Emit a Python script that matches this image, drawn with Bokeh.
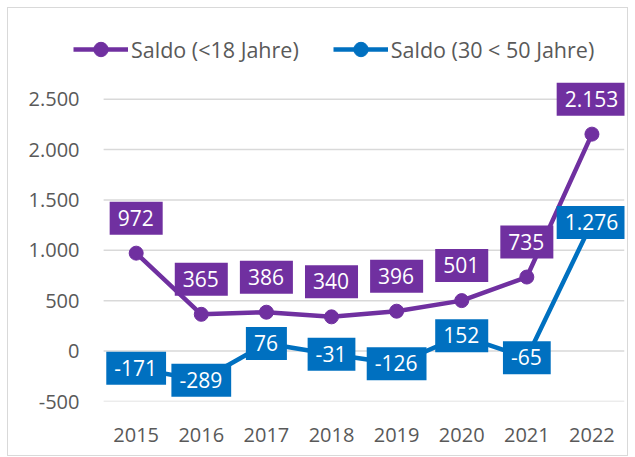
from bokeh.plotting import figure
from bokeh.models import (Range1d, FixedTicker, CustomJSTickFormatter, ColumnDataSource,
                          Legend, LegendItem)
from bokeh.core.properties import value
from bokeh.embed import file_html
from bokeh.resources import INLINE

years = [2015, 2016, 2017, 2018, 2019, 2020, 2021, 2022]
saldo_u18 = [972, 365, 386, 340, 396, 501, 735, 2153]
saldo_30_50 = [-171, -289, 76, -31, -126, 152, -65, 1276]
y_ticks = [-500, 0, 500, 1000, 1500, 2000, 2500]
series_names = ["Saldo (<18 Jahre)", "Saldo (30 < 50 Jahre)"]

PURPLE = "#7030A0"
BLUE = "#0070C0"
GRAY = "#595959"
GRID = "#d9d9d9"
FONT = "Open Sans"

# category band edges (half a year either side)
x_lo = years[0] - 0.5
x_hi = years[-1] + 0.5
# extra room on the left of the plotting frame so the legend is not clipped
x_pad = 33 / 64.875


def de(v):
    s = f"{abs(v):,}".replace(",", ".")
    return ("-" if v < 0 else "") + s


p = figure(width=621, height=449, output_backend="svg", toolbar_location=None,
           x_range=Range1d(x_lo - x_pad, x_hi), y_range=Range1d(-500, 3350),
           min_border_left=62, min_border_right=5, min_border_top=5, min_border_bottom=56)
p.styles = {"margin-left": "7px", "margin-top": "7px", "border": "1px solid #d9d9d9"}
p.outline_line_color = None
p.xgrid.grid_line_color = None
p.ygrid.grid_line_color = None

# horizontal gridlines across the category bands only
p.segment(x0=[x_lo] * len(y_ticks), x1=[x_hi] * len(y_ticks), y0=y_ticks, y1=y_ticks,
          line_color=GRID, line_width=1.5)

p.yaxis.ticker = FixedTicker(ticks=y_ticks)
p.yaxis.formatter = CustomJSTickFormatter(
    code="var s = Math.abs(tick).toString().replace(/\\B(?=(\\d{3})+(?!\\d))/g, '.'); return (tick < 0 ? '-' : '') + s;")
p.xaxis.ticker = FixedTicker(ticks=years)
for ax in (p.xaxis, p.yaxis):
    ax.axis_line_color = None
    ax.major_tick_line_color = None
    ax.minor_tick_line_color = None
    ax.major_tick_out = 0
    ax.major_tick_in = 0
    ax.major_label_text_font = FONT
    ax.major_label_text_font_size = "20px"
    ax.major_label_text_color = GRAY
p.yaxis.major_label_standoff = -9
p.xaxis.major_label_standoff = 26

src1 = ColumnDataSource(dict(x=years, y=saldo_u18, label=[de(v) for v in saldo_u18]))
src2 = ColumnDataSource(dict(x=years, y=saldo_30_50, label=[de(v) for v in saldo_30_50]))

l1 = p.line("x", "y", source=src1, line_color=PURPLE, line_width=4.5)
m1 = p.scatter("x", "y", source=src1, size=14, fill_color=PURPLE, line_color=PURPLE)
l2 = p.line("x", "y", source=src2, line_color=BLUE, line_width=4.5)
m2 = p.scatter("x", "y", source=src2, size=14, fill_color=BLUE, line_color=BLUE)

p.text("x", "y", text="label", source=src1, text_font=value(FONT), text_font_size="21px",
       text_color="white", text_align="center", text_baseline="middle", y_offset=-35,
       background_fill_color=PURPLE, padding=(8, 9, 8, 9))
p.text("x", "y", text="label", source=src2, text_font=value(FONT), text_font_size="21px",
       text_color="white", text_align="center", text_baseline="middle", y_offset=0,
       background_fill_color=BLUE, padding=(8, 9, 8, 9))

legend = Legend(items=[LegendItem(label=series_names[0], renderers=[l1, m1]),
                       LegendItem(label=series_names[1], renderers=[l2, m2])],
                location=(3, 334), orientation="horizontal",
                border_line_color=None, background_fill_alpha=0,
                glyph_width=55, glyph_height=36, label_standoff=3, spacing=34,
                padding=0, margin=0,
                label_text_font=FONT, label_text_font_size="21.5px", label_text_color=GRAY)
p.add_layout(legend)

open("out.html", "w").write(file_html(p, INLINE))
